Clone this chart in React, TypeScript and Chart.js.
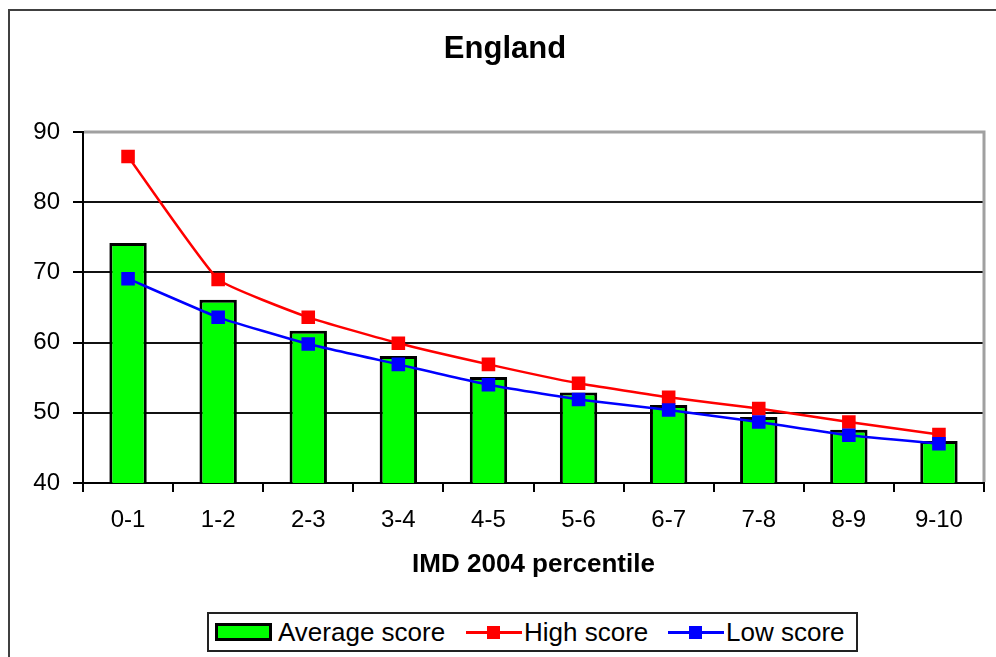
import React, { useEffect, useRef } from 'react';
import { Chart, registerables } from 'chart.js';

Chart.register(...registerables);

const categories = ['0-1', '1-2', '2-3', '3-4', '4-5', '5-6', '6-7', '7-8', '8-9', '9-10'];
const averageScore = [74.2, 66.1, 61.7, 58.1, 55.1, 52.9, 51.1, 49.4, 47.6, 46.0];
const highScore = [86.5, 69.0, 63.6, 59.9, 56.9, 54.2, 52.2, 50.6, 48.7, 46.9];
const lowScore = [69.1, 63.6, 59.8, 56.9, 54.0, 51.9, 50.4, 48.7, 46.8, 45.6];
const yTicks = { min: 40, max: 90, step: 10 };

const chartTitle = 'England';
const xTitle = 'IMD 2004 percentile';
const seriesNames = ['Average score', 'High score', 'Low score'];

const FONT = '"Liberation Sans", Arial, Helvetica, sans-serif';
const GREEN = '#00ff00';
const RED = '#ff0000';
const BLUE = '#0000ff';

const plotFrame = {
  id: 'plotFrame',
  afterDraw(chart: any) {
    const { ctx, chartArea: a } = chart;
    ctx.save();
    ctx.strokeStyle = '#a0a0a0';
    ctx.lineWidth = 3;
    ctx.beginPath();
    ctx.moveTo(a.left + 1, a.top);
    ctx.lineTo(a.right, a.top);
    ctx.lineTo(a.right, a.bottom - 1);
    ctx.stroke();
    ctx.restore();
  },
};

function LegendLine({ left, color }: { left: number; color: string }) {
  return (
    <>
      <div style={{ position: 'absolute', left, top: 631, width: 56, height: 3, background: color }} />
      <div style={{ position: 'absolute', left: left + 21, top: 626, width: 13, height: 13, background: color }} />
    </>
  );
}

export default function App() {
  const canvasRef = useRef<HTMLCanvasElement | null>(null);

  useEffect(() => {
    const canvas = canvasRef.current;
    if (!canvas) return;
    const chart = new Chart(canvas, {
      type: 'bar',
      data: {
        labels: categories,
        datasets: [
          {
            type: 'bar',
            label: seriesNames[0],
            data: averageScore,
            backgroundColor: GREEN,
            borderColor: '#000',
            borderWidth: 3,
            borderSkipped: false,
            barPercentage: 0.415,
            categoryPercentage: 1,
            order: 3,
          } as any,
          {
            type: 'line',
            label: seriesNames[1],
            data: highScore,
            borderColor: RED,
            backgroundColor: RED,
            borderWidth: 2.5,
            pointStyle: 'rect',
            pointRadius: 9.6,
            pointBorderWidth: 0,
            pointBackgroundColor: RED,
            tension: 0.12,
            fill: false,
            order: 2,
          } as any,
          {
            type: 'line',
            label: seriesNames[2],
            data: lowScore,
            borderColor: BLUE,
            backgroundColor: BLUE,
            borderWidth: 2.5,
            pointStyle: 'rect',
            pointRadius: 9.6,
            pointBorderWidth: 0,
            pointBackgroundColor: BLUE,
            tension: 0.12,
            fill: false,
            order: 1,
          } as any,
        ],
      },
      options: {
        animation: false,
        responsive: false,
        maintainAspectRatio: false,
        layout: { padding: { left: 26, right: 12, top: 0, bottom: 76.4 } },
        plugins: {
          legend: { display: false },
          tooltip: { enabled: false },
          title: {
            display: true,
            text: chartTitle,
            color: '#000',
            font: { family: FONT, size: 31, weight: 'bold', lineHeight: 1.2 },
            padding: { top: 31, bottom: 63.8 },
          },
        },
        scales: {
          x: {
            grid: {
              offset: true,
              drawOnChartArea: false,
              tickLength: 9,
              tickColor: '#000',
              lineWidth: 2,
            },
            border: { color: '#000', width: 2 },
            ticks: {
              color: '#000',
              font: { family: FONT, size: 24 },
              padding: 14,
              maxRotation: 0,
              autoSkip: false,
            },
            title: {
              display: true,
              text: xTitle,
              color: '#000',
              font: { family: FONT, size: 26, weight: 'bold', lineHeight: 1.2 },
              padding: 0,
            },
            afterFit: (s: any) => {
              s.height = 97.6;
            },
          },
          y: {
            min: yTicks.min,
            max: yTicks.max,
            ticks: {
              stepSize: yTicks.step,
              color: '#000',
              font: { family: FONT, size: 24 },
              padding: 13,
            },
            grid: {
              color: (c: any) => (c.tick && c.tick.value === yTicks.max ? 'rgba(0,0,0,0)' : '#111'),
              lineWidth: 2,
              tickLength: 10,
              tickColor: '#000',
            },
            border: { color: '#000', width: 2 },
            afterFit: (s: any) => {
              s.width = 57;
            },
          },
        },
      } as any,
      plugins: [plotFrame],
    });
    return () => chart.destroy();
  }, []);

  const textStyle: React.CSSProperties = {
    position: 'absolute',
    top: 612,
    height: 40,
    lineHeight: '40px',
    fontFamily: FONT,
    fontSize: 26,
    color: '#000',
    whiteSpace: 'nowrap',
  };

  return (
    <div
      style={{
        position: 'fixed',
        left: 0,
        top: 0,
        width: 996,
        height: 657,
        overflow: 'hidden',
        background: '#fff',
      }}
    >
      <div
        style={{
          position: 'absolute',
          left: 8,
          top: 9,
          width: 1200,
          height: 900,
          borderLeft: '2px solid #404040',
          borderTop: '2px solid #404040',
        }}
      />
      <canvas
        ref={canvasRef}
        width={996}
        height={657}
        style={{ position: 'absolute', left: 0, top: 0, width: 996, height: 657 }}
      />
      <div
        style={{
          position: 'absolute',
          left: 207,
          top: 612,
          width: 651,
          height: 40,
          boxSizing: 'border-box',
          border: '2px solid #222',
          background: '#fff',
        }}
      />
      <div
        style={{
          position: 'absolute',
          left: 215,
          top: 623,
          width: 57,
          height: 18,
          boxSizing: 'border-box',
          background: GREEN,
          border: '3px solid #000',
        }}
      />
      <div style={{ ...textStyle, left: 278 }}>{seriesNames[0]}</div>
      <LegendLine left={466} color={RED} />
      <div style={{ ...textStyle, left: 524 }}>{seriesNames[1]}</div>
      <LegendLine left={668} color={BLUE} />
      <div style={{ ...textStyle, left: 726 }}>{seriesNames[2]}</div>
    </div>
  );
}
